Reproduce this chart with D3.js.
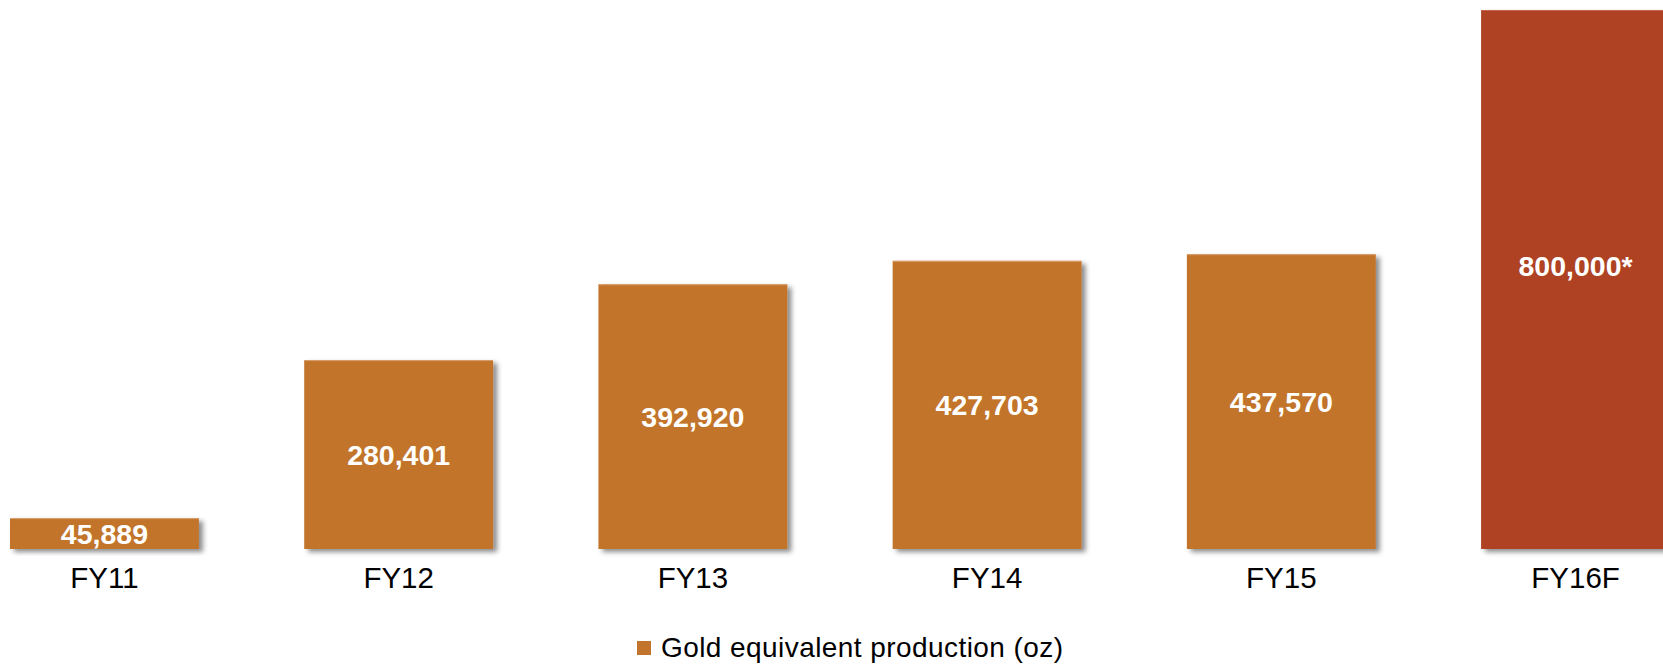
<!DOCTYPE html>
<html>
<head>
<meta charset="utf-8">
<script src="https://cdn.jsdelivr.net/npm/d3@7"></script>
<style>
  html, body { margin: 0; padding: 0; background: #fff; }
  svg { display: block; font-family: "Liberation Sans", Arial, Helvetica, sans-serif; }
</style>
</head>
<body>
<svg id="chart" width="1663" height="665"></svg>
<script>
const categories = ["FY11", "FY12", "FY13", "FY14", "FY15", "FY16F"];
const values = [45889, 280401, 392920, 427703, 437570, 800000];
const valueLabels = ["45,889", "280,401", "392,920", "427,703", "437,570", "800,000*"];
const forecast = [false, false, false, false, false, true];
const seriesName = "Gold equivalent production (oz)";

const W = 1663, H = 665;
const svg = d3.select("#chart");

const defs = svg.append("defs");
const f = defs.append("filter").attr("id", "shadow")
  .attr("x", "-10%").attr("y", "-10%").attr("width", "130%").attr("height", "130%");
f.append("feDropShadow").attr("dx", 4).attr("dy", 3).attr("stdDeviation", 2.5)
  .attr("flood-color", "#000").attr("flood-opacity", 0.45);

const x = d3.scaleBand().domain(categories).range([10, 1670]).paddingInner(0.358).paddingOuter(0);
const y = d3.scaleLinear().domain([0, 800000]).range([549, 10]);

const colorMain = "#c2742c";
const colorForecast = "#ae4223";

const data = categories.map((c, i) => ({ c, v: values[i], label: valueLabels[i], f: forecast[i] }));

const g = svg.append("g");
g.selectAll("rect.bar").data(data).join("rect")
  .attr("class", "bar")
  .attr("x", d => x(d.c))
  .attr("y", d => y(d.v))
  .attr("width", x.bandwidth())
  .attr("height", d => y(0) - y(d.v))
  .attr("fill", d => d.f ? colorForecast : colorMain)
  .attr("filter", "url(#shadow)");

// subtle highlight on top edge
g.selectAll("line.hl").data(data).join("line")
  .attr("class", "hl")
  .attr("x1", d => x(d.c)).attr("x2", d => x(d.c) + x.bandwidth())
  .attr("y1", d => y(d.v) + 0.5).attr("y2", d => y(d.v) + 0.5)
  .attr("stroke", d => d.f ? "#c2654a" : "#d9a070").attr("stroke-width", 1);

g.selectAll("text.val").data(data).join("text")
  .attr("class", "val")
  .attr("x", d => x(d.c) + x.bandwidth() / 2)
  .attr("y", d => (y(d.v) + y(0)) / 2 - (d.f ? 14 : 0))
  .attr("dy", "0.36em")
  .attr("text-anchor", "middle")
  .attr("fill", "#fff")
  .attr("font-weight", "bold")
  .attr("font-size", 28.5)
  .text(d => d.label);

// category axis
const xAxis = d3.axisBottom(x).tickSize(0).tickPadding(0);
const ax = svg.append("g").attr("transform", `translate(0, ${y(0)})`).call(xAxis);
ax.select(".domain").remove();
ax.selectAll("text")
  .attr("y", 39)
  .attr("dy", 0)
  .attr("font-size", 29.5)
  .attr("font-family", "'Liberation Sans', Arial, Helvetica, sans-serif")
  .attr("fill", "#000");

// legend
const lg = svg.append("g").attr("transform", "translate(637, 641)");
lg.append("rect").attr("width", 14).attr("height", 14).attr("fill", colorMain);
lg.append("text")
  .attr("x", 24).attr("y", 16)
  .attr("font-size", 28)
  .attr("fill", "#000")
  .attr("textLength", 402)
  .attr("lengthAdjust", "spacing")
  .text(seriesName);
</script>
</body>
</html>
